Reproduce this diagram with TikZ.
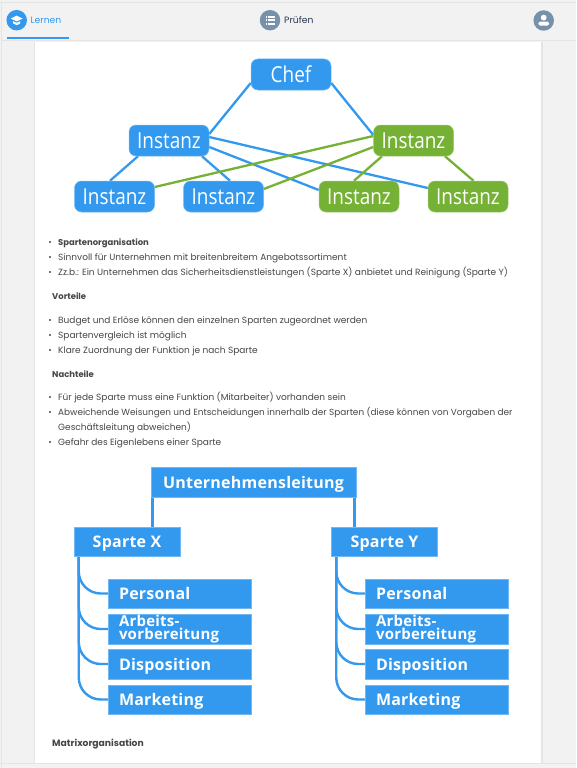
\documentclass[tikz,border=0pt]{standalone}
\usepackage{fontspec}
\setmainfont{Open Sans}
\newfontfamily\bodyfont{Poppins}
\newfontfamily\orgfont[FakeStretch=0.86]{Open Sans}
\newfontfamily\boxfont[LetterSpace=1.5]{Open Sans}
\usepackage{xcolor}
\usetikzlibrary{positioning, calc, backgrounds}
\definecolor{chartblue}{RGB}{50,153,239}
\definecolor{chartgreen}{RGB}{117,177,52}
\definecolor{pagegray}{RGB}{242,242,242}
\definecolor{edgegray}{RGB}{228,228,228}
\definecolor{icongray}{RGB}{120,145,170}
\definecolor{bodygray}{RGB}{70,70,70}
\definecolor{tabnavy}{RGB}{40,55,80}

\begin{document}
\begin{tikzpicture}[x=1pt, y=-1pt,
  orgbox/.style={rectangle, fill=#1, draw=#1!70!white, line width=0.5pt, rounded corners=7pt,
                 text=white, font=\orgfont\fontsize{22}{24}\selectfont, minimum width=80pt, minimum height=31pt, inner sep=0pt},
  headbox/.style={rectangle, fill=chartblue, draw=chartblue!70!white, line width=0.5pt, text=white,
                  font=\boxfont\bfseries\fontsize{16}{16}\selectfont, minimum height=29.5pt, inner sep=0pt,
                  text height=14pt, text depth=2pt},
  itembox/.style={rectangle, fill=chartblue, draw=chartblue!70!white, line width=0.5pt, text=white,
                  font=\boxfont\bfseries\fontsize{16}{18}\selectfont, text width=121pt, inner xsep=11pt, inner ysep=0pt,
                  minimum height=29.5pt, align=left},
  oneline/.style={text height=14pt, text depth=2pt},
  twolines/.style={font=\boxfont\bfseries\fontsize{15}{13}\selectfont},
  bluelink/.style={draw=chartblue, line width=2.3pt},
  greenlink/.style={draw=chartgreen, line width=2.3pt},
  treelink/.style={draw=chartblue, line width=2.4pt, rounded corners=22pt},
  txt/.style={anchor=base west, inner sep=0pt, text=bodygray, font=\bodyfont\fontsize{9}{11}\selectfont},
  txthead/.style={txt, font=\bodyfont\bfseries\fontsize{8.45}{11}\selectfont},
  tab/.style={anchor=base west, inner sep=0pt, font=\bodyfont\fontsize{9.2}{11}\selectfont},
  iconcircle/.style={circle, fill=#1, minimum size=20.5pt, inner sep=0pt},
]
  \useasboundingbox (0,0) rectangle (576,768);

  % Page and card
  \begin{pgfonlayer}{background}
  \fill[pagegray] (0,0) rectangle (576,768);
  \fill[edgegray] (33.5,40) rectangle (542.5,764);
  \fill[white] (35,40) rectangle (541,763);
  \fill[edgegray] (0,763) rectangle (576,764);
  \fill[edgegray] (0,2) rectangle (576,3);
  \fill[edgegray] (1,2) rectangle (1.8,768);
  \end{pgfonlayer}

  % Top bar
  \fill[pagegray] (1.8,3) rectangle (576,40);
  \fill[edgegray] (1.8,40) rectangle (576,41);
  \fill[edgegray!50!white] (1.8,41) rectangle (576,42);
  \fill[chartblue] (7,37.5) rectangle (69,39.2);

  \node[iconcircle=chartblue] (learnicon) at (16.7,20.2) {};
  \fill[white] (10.8,18.6) -- (16.7,15.6) -- (22.6,18.6) -- (16.7,21.4) -- cycle;
  \fill[white] (13.2,21.2) -- (16.7,22.8) -- (20.2,21.2) -- (20.2,23.4) -- (16.7,25.2) -- (13.2,23.4) -- cycle;
  \node[tab, text=chartblue] (learntab) at (30.5,23.5) {Lernen};

  \node[iconcircle=icongray] (checkicon) at (270,20.2) {};
  \foreach \y in {16.8,20.2,23.6} {
    \fill[white] (265.6,\y-1) rectangle (267.2,\y+1);
    \fill[white] (268.4,\y-1) rectangle (274.6,\y+1);
  }
  \node[tab, text=tabnavy] (checktab) at (284,23.5) {Prüfen};

  \node[iconcircle=icongray] (usericon) at (543.7,20.5) {};
  \fill[white] (543.7,17.6) circle (2.9);
  \fill[white, rounded corners=1.5pt] (538.4,25.6) rectangle (549,21.6);

  % First chart
  \node[orgbox=chartblue] (chef) at (291,74.5) {Chef};
  \node[orgbox=chartblue] (il) at (169,140.5) {Instanz};
  \node[orgbox=chartgreen] (ir) at (413.5,140.5) {Instanz};
  \node[orgbox=chartblue] (ia) at (114.5,196.5) {Instanz};
  \node[orgbox=chartblue] (ib) at (223.5,196.5) {Instanz};
  \node[orgbox=chartgreen] (ic) at (359,196.5) {Instanz};
  \node[orgbox=chartgreen] (id) at (468,196.5) {Instanz};

  \begin{pgfonlayer}{background}
  \draw[bluelink] ([yshift=-8.5pt]chef.west) -- ([yshift=6.5pt]il.east);
  \draw[bluelink] ([yshift=-8.5pt]chef.east) -- ([yshift=5.5pt]ir.west);
  \draw[bluelink] ([xshift=-31pt]il.south) -- ([xshift=-4.5pt]ia.north);
  \draw[bluelink] ([xshift=33pt]il.south) -- ([xshift=6.5pt]ib.north);
  \draw[bluelink] ([yshift=-6.5pt]il.east) -- ([yshift=6.5pt]ic.west);
  \draw[bluelink] ([yshift=3.5pt]il.east) -- ([yshift=8.5pt]id.west);
  \draw[greenlink] ([xshift=-31.5pt]ir.south) -- ([xshift=-5pt]ic.north);
  \draw[greenlink] ([xshift=31.5pt]ir.south) -- ([xshift=5.5pt]id.north);
  \draw[greenlink] ([yshift=4.5pt]ir.west) -- ([yshift=9.5pt]ia.east);
  \draw[greenlink] ([yshift=-6.5pt]ir.west) -- ([yshift=7.5pt]ib.east);
  \end{pgfonlayer}

  % Text
  \foreach \y in {242,257,272,320,335,350,397,412,442}
    \fill[bodygray] (50,\y) circle (1.2);
  \node[txthead] (t1) at (58,245.2) {Spartenorganisation};
  \node[txt] (t2) at (58,260.2) {Sinnvoll für Unternehmen mit breitenbreitem Angebotssortiment};
  \node[txt] (t3) at (58,275.2) {Zz.b.: Ein Unternehmen das Sicherheitsdienstleistungen (Sparte X) anbietet und Reinigung (Sparte Y)};
  \node[txthead] (t4) at (52,299.2) {Vorteile};
  \node[txt] (t5) at (58,323.2) {Budget und Erlöse können den einzelnen Sparten zugeordnet werden};
  \node[txt] (t6) at (58,338.2) {Spartenvergleich ist möglich};
  \node[txt] (t7) at (58,353.2) {Klare Zuordnung der Funktion je nach Sparte};
  \node[txthead] (t8) at (52,377) {Nachteile};
  \node[txt] (t9) at (58,400.2) {Für jede Sparte muss eine Funktion (Mitarbeiter) vorhanden sein};
  \node[txt, font=\bodyfont\fontsize{8.9}{11}\selectfont] (t10) at (58,415.2) {Abweichende Weisungen und Entscheidungen innerhalb der Sparten (diese können von Vorgaben der};
  \node[txt] (t11) at (58,430.2) {Geschäftsleitung abweichen)};
  \node[txt] (t12) at (58,445.2) {Gefahr des Eigenlebens einer Sparte};
  \node[txthead, font=\bodyfont\bfseries\fontsize{9.2}{11}\selectfont] (t13) at (52,746.5) {Matrixorganisation};

  % Second chart
  \node[headbox, minimum width=205pt] (head) at (253.5,482) {Unternehmensleitung};
  \node[headbox, minimum width=106pt] (sx) at (127,541.5) {Sparte X};
  \node[headbox, minimum width=106pt] (sy) at (384.5,541.5) {Sparte Y};

  \node[itembox, oneline] (x1) at (179.5,593.5) {Personal};
  \node[itembox, twolines] (x2) at (179.5,629) {Arbeits-\\vorbereitung};
  \node[itembox, oneline] (x3) at (179.5,664) {Disposition};
  \node[itembox, oneline] (x4) at (179.5,699.5) {Marketing};

  \node[itembox, oneline] (y1) at (436.5,593.5) {Personal};
  \node[itembox, twolines] (y2) at (436.5,629) {Arbeits-\\vorbereitung};
  \node[itembox, oneline] (y3) at (436.5,664) {Disposition};
  \node[itembox, oneline] (y4) at (436.5,699.5) {Marketing};

  \begin{pgfonlayer}{background}
  \draw[bluelink, line width=3pt] ([xshift=2pt]head.south west) -- ([xshift=2pt]head.south west |- sx.north);
  \draw[bluelink, line width=3pt] ([xshift=-2pt]head.south east) -- ([xshift=-2pt]head.south east |- sy.north);
  \foreach \n in {x1,x2,x3,x4}
    \draw[treelink] ([xshift=5pt]sx.south west) |- (\n.west);
  \foreach \n in {y1,y2,y3,y4}
    \draw[treelink] ([xshift=5pt]sy.south west) |- (\n.west);
  \end{pgfonlayer}
\end{tikzpicture}
\end{document}
